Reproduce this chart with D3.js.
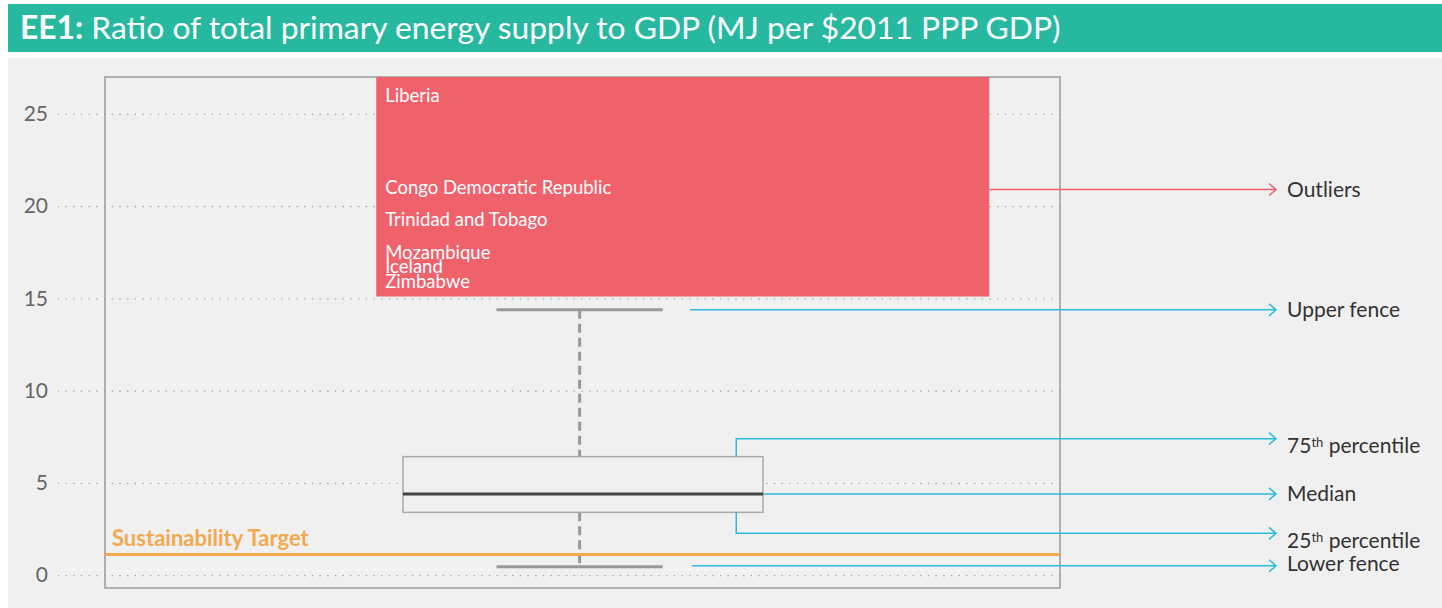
<!DOCTYPE html>
<html lang="en">
<head>
<meta charset="UTF-8">
<script src="https://d3js.org/d3.v7.min.js"></script>
<title>EE1</title>
<style>
  * { margin: 0; padding: 0; }
  body { background: #fff; font-family: Lato, "Open Sans", sans-serif; }
</style>
</head>
<body>
<div id="chart"></div>
<script>
  const W = 1442, H = 608;

  // data
  const yTicks = [0, 5, 10, 15, 20, 25];
  const outlierNames = ["Liberia", "Congo Democratic Republic", "Trinidad and Tobago", "Mozambique", "Iceland", "Zimbabwe"];
  const outlierValues = [26.0, 21.0, 19.3, 17.5, 16.7, 15.9];
  const outlierFloor = 15.1;
  const boxStats = { lower: 0.45, q1: 3.4, median: 4.4, q3: 6.42, upper: 14.38 };
  const targetValue = 1.12;

  const teal = "#26B99F", red = "#EF626C", orange = "#F2A950", cyan = "#2BBAE0";

  const svg = d3.select("#chart").append("svg")
    .attr("width", W).attr("height", H)
    .style("display", "block");

  // header band
  svg.append("rect").attr("x", 8).attr("y", 4).attr("width", W - 8).attr("height", 48).attr("fill", teal);
  const title = svg.append("text").attr("x", 20).attr("y", 39)
    .attr("fill", "#fff").style("font-size", "31.8px");
  title.append("tspan").style("font-weight", "bold").text("EE1:");
  title.append("tspan").text(" Ratio of total primary energy supply to GDP (MJ per $2011 PPP GDP)");

  // panel
  svg.append("rect").attr("x", 8).attr("y", 58).attr("width", W - 8).attr("height", H - 58).attr("fill", "#f0f0f0");

  const frame = { left: 105, right: 1060, top: 77, bottom: 588 };

  const y = d3.scaleLinear().domain([-0.7, 27]).range([frame.bottom, frame.top]);
  const x = d3.scaleLinear().domain([0, 1]).range([frame.left, frame.right]);

  // y axis with dotted grid
  const yAxis = d3.axisLeft(y).tickValues(yTicks).tickSize(-(frame.right - 58)).tickPadding(10);
  const ga = svg.append("g").attr("transform", "translate(" + frame.right + ",0)").call(yAxis);
  ga.select(".domain").remove();
  ga.selectAll(".tick line").attr("stroke", "#999").attr("stroke-dasharray", "1.2,6.5").attr("stroke-width", 1.2)
    .attr("x1", 0).attr("x2", -(frame.right - 58));
  ga.selectAll(".tick text").attr("x", -(frame.right - 48)).attr("fill", "#666")
    .style("font-size", "21px").style("font-family", "Lato, sans-serif");

  // frame
  svg.append("rect").attr("x", frame.left).attr("y", frame.top)
    .attr("width", frame.right - frame.left).attr("height", frame.bottom - frame.top)
    .attr("fill", "none").attr("stroke", "#9a9a9a").attr("stroke-width", 1.5);

  // outlier block
  const ox0 = x(0.284), ox1 = x(0.926);
  svg.append("rect").attr("x", ox0).attr("y", frame.top)
    .attr("width", ox1 - ox0).attr("height", y(outlierFloor) - frame.top).attr("fill", red);
  svg.append("g").selectAll("text").data(outlierNames).join("text")
    .attr("x", ox0 + 9).attr("y", (d, i) => y(outlierValues[i]))
    .attr("dy", "0.35em").attr("fill", "#fff")
    .style("font-size", "18.5px").text(d => d);

  // box plot
  const cx = x(0.497);
  const bx0 = x(0.312), bx1 = x(0.689);
  const cap0 = x(0.41), cap1 = x(0.584);
  const g = svg.append("g");
  g.append("line").attr("x1", cx).attr("x2", cx).attr("y1", y(boxStats.upper)).attr("y2", y(boxStats.q3))
    .attr("stroke", "#999").attr("stroke-width", 3).attr("stroke-dasharray", "9,5");
  g.append("line").attr("x1", cx).attr("x2", cx).attr("y1", y(boxStats.q1)).attr("y2", y(boxStats.lower))
    .attr("stroke", "#999").attr("stroke-width", 3).attr("stroke-dasharray", "9,5");
  [boxStats.upper, boxStats.lower].forEach(v => {
    g.append("line").attr("x1", cap0).attr("x2", cap1).attr("y1", y(v)).attr("y2", y(v))
      .attr("stroke", "#999").attr("stroke-width", 3);
  });
  g.append("rect").attr("x", bx0).attr("y", y(boxStats.q3))
    .attr("width", bx1 - bx0).attr("height", y(boxStats.q1) - y(boxStats.q3))
    .attr("fill", "#f0f0f0").attr("stroke", "#aaa").attr("stroke-width", 1.5);
  g.append("line").attr("x1", bx0).attr("x2", bx1).attr("y1", y(boxStats.median)).attr("y2", y(boxStats.median))
    .attr("stroke", "#444").attr("stroke-width", 3);

  // sustainability target
  svg.append("line").attr("x1", frame.left).attr("x2", frame.right)
    .attr("y1", y(targetValue)).attr("y2", y(targetValue))
    .attr("stroke", orange).attr("stroke-width", 3);
  svg.append("text").attr("x", frame.left + 7).attr("y", y(targetValue) - 8)
    .attr("fill", orange).style("font-size", "22px").style("font-weight", "bold")
    .text("Sustainability Target");

  // annotations
  const tipX = 1276, labelX = 1287;
  const stub = x(0.661);
  function arrow(points, color) {
    svg.append("path").attr("d", d3.line()(points))
      .attr("fill", "none").attr("stroke", color).attr("stroke-width", 1.5);
    const [tx, ty] = points[points.length - 1];
    svg.append("path").attr("d", d3.line()([[tx - 7, ty - 6], [tx, ty], [tx - 7, ty + 6]]))
      .attr("fill", "none").attr("stroke", color).attr("stroke-width", 1.5);
  }
  function label(yPos, main, sup, rest) {
    const t = svg.append("text").attr("x", labelX).attr("y", yPos).attr("dy", "0.35em")
      .attr("fill", "#333").style("font-size", "21px");
    t.append("tspan").text(main);
    if (sup) {
      t.append("tspan").attr("baseline-shift", "6").style("font-size", "13px").text(sup);
      t.append("tspan").text(rest);
    }
  }

  const yOut = y(20.9);
  arrow([[ox1, yOut], [tipX, yOut]], "#F0626E");
  label(yOut, "Outliers");

  const yUp = y(boxStats.upper);
  arrow([[690, yUp], [tipX, yUp]], cyan);
  label(yUp, "Upper fence");

  const y75 = y(boxStats.q3) - 18;
  arrow([[stub, y(boxStats.q3)], [stub, y75], [tipX, y75]], cyan);
  label(y75 + 7, "75", "th", " percentile");

  const yMed = y(boxStats.median);
  arrow([[bx1, yMed], [tipX, yMed]], cyan);
  label(yMed, "Median");

  const y25 = y(boxStats.q1) + 21;
  arrow([[stub, y(boxStats.q1)], [stub, y25], [tipX, y25]], cyan);
  label(y25 + 7, "25", "th", " percentile");

  const yLow = y(boxStats.lower) - 1;
  arrow([[692, yLow], [tipX, yLow]], cyan);
  label(yLow - 2, "Lower fence");
</script>
</body>
</html>
